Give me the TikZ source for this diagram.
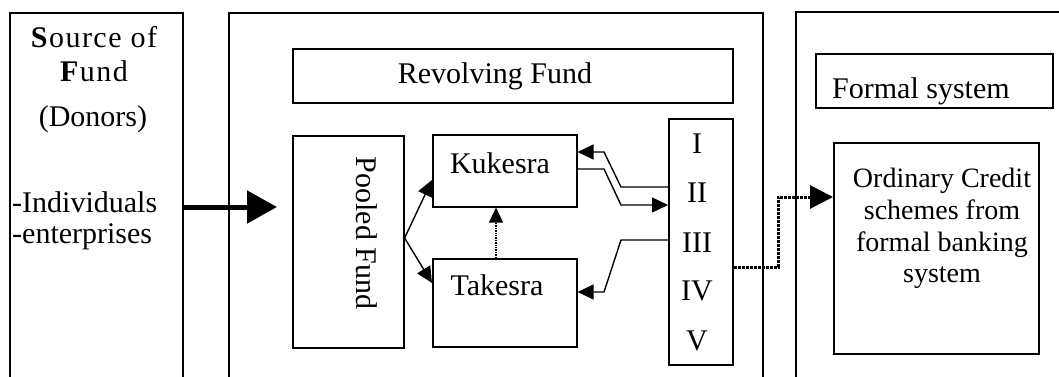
\documentclass[tikz,border=0pt]{standalone}
\usepackage{fontspec}
\setmainfont{Liberation Serif}
\usetikzlibrary{arrows.meta}
\begin{document}
\begin{tikzpicture}[x=1pt,y=-1pt,
  box/.style={draw,line width=1.6pt,inner sep=0pt,anchor=north west},
  lbl/.style={inner sep=0pt,font=\fontsize{30}{36}\selectfont},
  panel/.style={draw,line width=1.6pt},
  link/.style={draw,line width=1.4pt,-{Triangle[length=16pt,width=15pt]}},
  dotlink/.style={draw,line width=1.4pt,densely dotted,-{Triangle[length=15pt,width=14pt]}}]
\useasboundingbox (0,0) rectangle (1059,377);

% three open-bottomed panels
\draw[panel] (10,377) -- (10,13) -- (183,13) -- (183,377);
\draw[panel] (229,377) -- (229,13) -- (763,13) -- (763,377);
\draw[panel] (796,377) -- (796,12) -- (1059,12);

% source of fund
\node[lbl,anchor=base] (src1) at (94,48) {\addfontfeatures{LetterSpace=5}\textbf{S}ource of};
\node[lbl,anchor=base] (src2) at (94,82) {\addfontfeatures{LetterSpace=5}\textbf{F}und};
\node[lbl,anchor=base] (src3) at (93,127) {(Donors)};
\node[lbl,anchor=base west] (src4) at (12,212) {-Individuals};
\node[lbl,anchor=base west] (src5) at (12,243) {-enterprises};

% revolving fund
\node[box,minimum width=440pt,minimum height=54pt] (rev) at (292,48) {};
\node[lbl,anchor=base] (revt) at (495,84) {Revolving Fund};

\node[box,minimum width=111pt,minimum height=212pt] (pool) at (292,135) {};
\node[lbl,rotate=-90] (poolt) at (367,233) {Pooled Fund};

\node[box,minimum width=144pt,minimum height=72pt] (kuk) at (432,134) {};
\node[lbl,anchor=base] (kukt) at (500,173) {Kukesra};

\node[box,minimum width=144pt,minimum height=88pt] (tak) at (432,258) {};
\node[lbl,anchor=base] (takt) at (497,295) {Takesra};

\node[box,minimum width=64pt,minimum height=246pt] (rom) at (668,118) {};
\node[lbl,anchor=base] (r1) at (697,153) {I};
\node[lbl,anchor=base] (r2) at (697,202) {II};
\node[lbl,anchor=base] (r3) at (697,252) {III};
\node[lbl,anchor=base] (r4) at (697,300) {IV};
\node[lbl,anchor=base] (r5) at (697,350) {V};

% formal system
\node[box,minimum width=237pt,minimum height=54pt] (fs) at (815,53) {};
\node[lbl,anchor=base west] (fst) at (832,99) {Formal system};

\node[box,minimum width=205pt,minimum height=211pt] (ord) at (833,142) {};
\node[inner sep=0pt,anchor=north,align=center,
      font=\fontsize{28}{31.7}\selectfont] (ordt) at (942,168)
  {Ordinary Credit\\schemes from\\formal banking\\system};

% connectors
\coordinate (srcout) at (183,207);
\coordinate (poolin) at (277,207);
\draw[line width=5pt,-{Triangle[length=30pt,width=32pt]}] (srcout) -- (poolin);

\draw[link] (pool.east |- 0,238) -- (kuk.west |- 0,180);
\draw[link] (pool.east |- 0,238) -- (tak.west |- 0,283);
\draw[dotlink] (tak.north -| 496,0) -- (kuk.south -| 496,0);

\draw[link] (rom.west |- 0,187) -- (621,187) -- (604,152) -- (kuk.east |- 0,152);
\draw[link] (kuk.east |- 0,169) -- (604,169) -- (621,205) -- (rom.west |- 0,205);
\draw[link] (rom.west |- 0,240) -- (621,240) -- (604,292) -- (tak.east |- 0,292);

\draw[draw,line width=3pt,densely dotted,-{Triangle[length=23pt,width=23pt]}]
  (rom.east |- 0,267) -- (778,267) -- (778,197) -- (ord.west |- 0,197);
\end{tikzpicture}
\end{document}
